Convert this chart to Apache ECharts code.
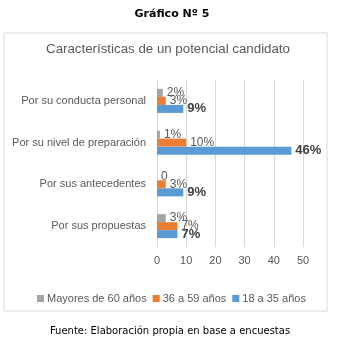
<!DOCTYPE html>
<html>
<head>
<meta charset="utf-8">
<script src="https://cdn.jsdelivr.net/npm/echarts@6/dist/echarts.min.js"></script>
<style>
  html, body { margin: 0; padding: 0; background: #fff; }
  #chart { width: 340px; height: 341px; }
</style>
</head>
<body>
<div id="chart"></div>
<script>
// categories, top to bottom
var categories = ["Por su conducta personal", "Por su nivel de preparación", "Por sus antecedentes", "Por sus propuestas"];
var seriesNames = ["Mayores de 60 años", "36 a 59 años", "18 a 35 años"];
var mayores60 = [2, 1, 0, 3];
var de36a59 = [3, 10, 3, 7];
var de18a35 = [9, 46, 9, 7];
var xTicks = [0, 10, 20, 30, 40, 50];

var colors = ["#a5a5a5", "#ed7d31", "#5b9bd5"];

function pct(p)
{
    return p.value === 0 ? "0" : p.value + "%";
}

function makeSeries(name, values, color, bold)
{
    return {
        name: name,
        type: "bar",
        data: values,
        barWidth: 8,
        barGap: "0%",
        itemStyle: { color: color },
        label: {
            show: true,
            position: "right",
            distance: 4,
            formatter: pct,
            fontFamily: "Liberation Sans, Arial",
            fontSize: bold ? 13 : 12,
            fontWeight: bold ? "bold" : "normal",
            color: bold ? "#404040" : "#595959"
        }
    };
}

var myChart = echarts.init(document.getElementById("chart"));

var option = {
    animation: false,
    textStyle: { fontFamily: "Liberation Sans, Arial" },
    title: [
        {
            text: "Gráfico Nº 5",
            left: 167, textAlign: "center", top: 4,
            textStyle: { fontSize: 11, fontWeight: "bold", color: "#000", fontFamily: "DejaVu Sans" }
        },
        {
            text: "Características de un potencial candidato",
            left: 163, textAlign: "center", top: 38,
            textStyle: { fontSize: 13.3, fontWeight: "normal", color: "#595959", fontFamily: "Liberation Sans, Arial" }
        },
        {
            text: "Fuente: Elaboración propia en base a encuestas",
            left: 165, textAlign: "center", top: 321,
            textStyle: { fontSize: 10, fontWeight: "normal", color: "#000", fontFamily: "DejaVu Sans" }
        }
    ],
    graphic: [{
        type: "rect",
        shape: { x: 4, y: 33, width: 323, height: 278 },
        style: { fill: "none", stroke: "#d9d9d9", lineWidth: 1 },
        silent: true
    }],
    legend: {
        data: seriesNames,
        left: 32,
        top: 288,
        itemWidth: 7,
        itemHeight: 7,
        itemGap: 6,
        icon: "rect",
        textStyle: { fontSize: 11, color: "#595959", padding: [0, 0, 0, -2] }
    },
    grid: { left: 157, right: 37, top: 80, bottom: 94, containLabel: false },
    xAxis: {
        type: "value",
        min: xTicks[0],
        max: xTicks[xTicks.length - 1],
        interval: 10,
        axisLine: { show: false },
        axisTick: { show: false },
        splitLine: { lineStyle: { color: "#d9d9d9" } },
        axisLabel: { color: "#595959", fontSize: 11, margin: 8 }
    },
    yAxis: {
        type: "category",
        data: categories,
        inverse: true,
        axisLine: { lineStyle: { color: "#d9d9d9" } },
        axisTick: { show: false },
        axisLabel: { color: "#595959", fontSize: 11, margin: 11 }
    },
    series: [
        makeSeries(seriesNames[0], mayores60, colors[0], false),
        makeSeries(seriesNames[1], de36a59, colors[1], false),
        makeSeries(seriesNames[2], de18a35, colors[2], true)
    ]
};

myChart.setOption(option);
</script>
</body>
</html>
